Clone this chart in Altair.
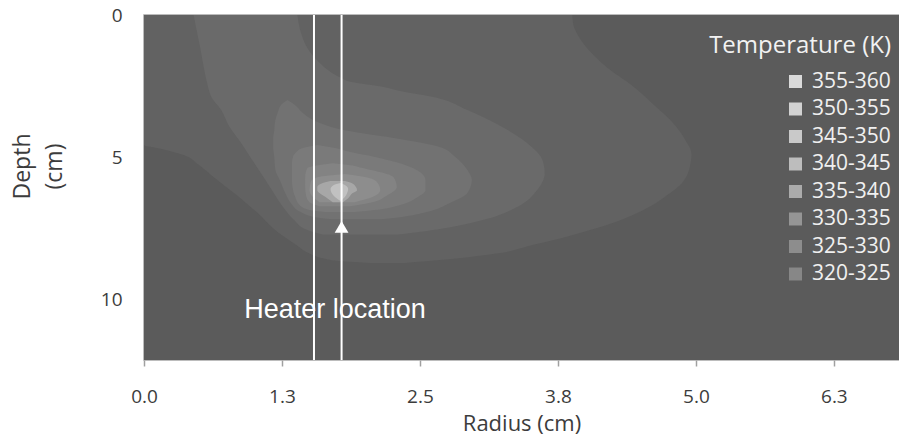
import altair as alt
import pandas as pd

# ---------------- data ----------------
levels = ["320-325", "325-330", "330-335", "335-340", "340-345", "345-350", "350-355", "355-360"]
plot_colors = ["#626262", "#6a6a6a", "#727272", "#7a7a7a", "#838383", "#8d8d8d", "#a7a7a7", "#c1c1c1"]
legend_colors = ["#878787", "#8d8d8d", "#959595", "#ababab", "#bdbdbd", "#c9c9c9", "#d2d2d2", "#dadada"]
background_color = "#5b5b5b"

# each band: (depth cm, left radius cm, right radius cm) of the region with T >= lower bound
band_320_325 = [(0.00, 0.00, 3.88), (0.35, 0.00, 3.89), (0.70, 0.00, 3.93), (1.10, 0.00, 4.00),
                (1.51, 0.00, 4.10), (1.95, 0.00, 4.23), (2.36, 0.00, 4.38), (2.80, 0.00, 4.52),
                (3.27, 0.00, 4.65), (3.70, 0.00, 4.77), (4.12, 0.00, 4.86), (4.57, 0.00, 4.93),
                (4.70, 0.15, 4.95), (4.92, 0.36, 4.96), (5.25, 0.49, 4.95), (5.63, 0.61, 4.92),
                (6.00, 0.73, 4.85), (6.33, 0.84, 4.74), (6.70, 0.95, 4.60), (7.03, 1.05, 4.43),
                (7.35, 1.13, 4.22), (7.63, 1.21, 3.98), (7.88, 1.30, 3.75), (8.09, 1.38, 3.52),
                (8.37, 1.49, 3.22), (8.55, 1.62, 2.85), (8.66, 1.80, 2.55), (8.72, 2.05, 2.36)]
band_325_330 = [(0.00, 0.45, 1.39), (0.60, 0.48, 1.42), (1.16, 0.51, 1.48), (1.60, 0.53, 1.57),
                (2.00, 0.55, 1.69), (2.20, 0.56, 1.78), (2.36, 0.57, 1.88), (2.53, 0.58, 2.17),
                (2.67, 0.59, 2.32), (2.88, 0.61, 2.62), (3.34, 0.70, 2.93),
                (3.90, 0.77, 3.23), (4.50, 0.88, 3.47), (5.10, 0.98, 3.61), (5.56, 1.06, 3.63),
                (6.16, 1.16, 3.56), (6.75, 1.26, 3.38), (7.21, 1.36, 3.07), (7.56, 1.48, 2.62),
                (7.72, 1.62, 2.30)]
band_330_335 = [(2.99, 1.30, 1.30), (3.17, 1.24, 1.37), (3.45, 1.21, 1.44), (3.69, 1.19, 1.53),
                (4.05, 1.18, 1.82), (4.36, 1.17, 2.32), (4.64, 1.17, 2.68), (4.99, 1.18, 2.82),
                (5.45, 1.19, 2.93), (5.80, 1.23, 2.97), (6.26, 1.28, 2.93), (6.61, 1.33, 2.77),
                (6.93, 1.42, 2.56), (7.11, 1.55, 2.32), (7.18, 1.70, 2.15)]
band_335_340 = [(4.57, 1.57, 1.57), (4.68, 1.44, 1.73), (4.82, 1.38, 1.87), (4.99, 1.35, 2.09),
                (5.21, 1.34, 2.32), (5.45, 1.34, 2.47), (5.80, 1.34, 2.55), (6.16, 1.35, 2.55),
                (6.40, 1.37, 2.48), (6.68, 1.41, 2.32), (6.86, 1.50, 2.09), (6.93, 1.64, 1.91)]
band_340_345 = [(5.21, 1.71, 1.71), (5.28, 1.58, 1.87), (5.38, 1.48, 1.98), (5.70, 1.46, 2.26),
                (6.05, 1.46, 2.29), (6.37, 1.47, 2.19), (6.58, 1.50, 2.07), (6.72, 1.59, 1.87)]
band_345_350 = [(5.59, 1.82, 1.82), (5.70, 1.58, 2.00), (5.87, 1.51, 2.11), (6.16, 1.50, 2.14),
                (6.40, 1.53, 2.07), (6.58, 1.59, 1.91)]
band_350_355 = [(5.84, 1.69, 1.82), (5.91, 1.62, 1.88), (6.05, 1.57, 1.92), (6.16, 1.57, 1.93),
                (6.26, 1.59, 1.89), (6.44, 1.66, 1.85), (6.58, 1.71, 1.80)]
band_355_360 = [(5.91, 1.78, 1.78), (5.98, 1.72, 1.82), (6.12, 1.69, 1.85), (6.26, 1.70, 1.84),
                (6.40, 1.73, 1.82), (6.54, 1.78, 1.78)]

bands = [band_320_325, band_325_330, band_330_335, band_335_340,
         band_340_345, band_345_350, band_350_355, band_355_360]

radius_range = [0, 6.84]
depth_range = [0, 12.13]
x_ticks = [0, 1.25, 2.5, 3.75, 5.0, 6.25]
y_ticks = [0, 5, 10]
heater_lines_r = [1.54, 1.79]
heater_arrow_r = [1.79]
heater_arrow_depth = [7.45]
heater_label = ["Heater location"]
heater_label_r = [1.73]
heater_label_depth = [10.66]

# ---------------- build tables ----------------
rows = []
for lev, band in zip(levels, bands):
    for d, l, r in band:
        rows.append({"level": lev, "depth": d, "left": l, "right": r})
df_bands = pd.DataFrame(rows)

X_SCALE = alt.Scale(domain=radius_range, nice=False, zero=False)
Y_SCALE = alt.Scale(domain=depth_range, nice=False, zero=False, reverse=True)
AX_COLOR = "#3c3c3c"
X_AXIS = alt.Axis(title="Radius (cm)", values=x_ticks, format=".1f", grid=False,
                  labelFont="Open Sans", labelFontSize=19, labelColor=AX_COLOR,
                  labelFlush=False, labelOverlap=False, labelPadding=21,
                  ticks=True, tickSize=6, tickColor="#a0a0a0", tickWidth=1.5,
                  domain=False,
                  titleFont="Open Sans", titleFontSize=22, titleFontWeight="normal",
                  titleColor=AX_COLOR, titleBaseline="top", titleY=53)
Y_AXIS = alt.Axis(title=["Depth", "(cm)"], values=y_ticks, grid=False,
                  labelFont="Open Sans", labelFontSize=19, labelColor=AX_COLOR,
                  labelFlush=False, labelOverlap=False, labelPadding=22,
                  ticks=False, tickSize=0, domain=False,
                  titleFont="Open Sans", titleFontSize=23, titleFontWeight="normal",
                  titleColor=AX_COLOR, titleAngle=-90, titleBaseline="top",
                  titleAlign="center", titleX=-133, titleY=151, titleLineHeight=32)

bg = alt.Chart(pd.DataFrame({"r0": [radius_range[0]], "r1": [radius_range[1]],
                             "d0": [depth_range[0]], "d1": [depth_range[1]]})).mark_rect(
    color=background_color, opacity=1
).encode(x=alt.X("r0:Q", scale=X_SCALE, axis=X_AXIS), x2="r1:Q",
         y=alt.Y("d0:Q", scale=Y_SCALE, axis=Y_AXIS), y2="d1:Q")

layers = [bg]
for lev, col in zip(levels, plot_colors):
    layers.append(
        alt.Chart(df_bands)
        .transform_filter(alt.datum.level == lev)
        .mark_area(orient="horizontal", interpolate="monotone", color=col, opacity=1)
        .encode(
            x=alt.X("left:Q", scale=X_SCALE, axis=X_AXIS),
            x2="right:Q",
            y=alt.Y("depth:Q", scale=Y_SCALE, axis=Y_AXIS),
        )
    )

lines = alt.Chart(pd.DataFrame({"r": heater_lines_r})).mark_rule(
    color="white", strokeWidth=2
).encode(x=alt.X("r:Q", scale=X_SCALE, axis=X_AXIS))

arrow = alt.Chart(pd.DataFrame({"r": heater_arrow_r, "d": heater_arrow_depth})).mark_point(
    shape="triangle-up", filled=True, color="white", size=190, opacity=1
).encode(x=alt.X("r:Q", scale=X_SCALE, axis=X_AXIS),
         y=alt.Y("d:Q", scale=Y_SCALE, axis=Y_AXIS))

label = alt.Chart(pd.DataFrame({"t": heater_label, "r": heater_label_r, "d": heater_label_depth})).mark_text(
    font="Liberation Sans", fontSize=27, color="white", align="center", baseline="alphabetic"
).encode(x=alt.X("r:Q", scale=X_SCALE, axis=X_AXIS),
         y=alt.Y("d:Q", scale=Y_SCALE, axis=Y_AXIS),
         text="t:N")

legend_layer = alt.Chart(pd.DataFrame({"range": levels})).mark_square(opacity=0).encode(
    color=alt.Color(
        "range:N",
        scale=alt.Scale(domain=levels[::-1], range=legend_colors[::-1]),
        legend=alt.Legend(
            title="Temperature (K)", orient="none", legendX=565, legendY=19,
            titleAnchor="end", titleAlign="right", titleFont="Open Sans",
            titleFontSize=24, titleFontWeight="normal", titleColor="#f2f2f2",
            titleLimit=400, titlePadding=13, labelFont="Open Sans", labelFontSize=21,
            labelColor="#f0f0f0", labelOffset=6, symbolType="square",
            symbolSize=169, symbolStrokeWidth=0, symbolOpacity=1,
            rowPadding=5.5, padding=0,
        ),
    )
)

chart = alt.layer(*layers, lines, arrow, label, legend_layer).properties(
    width=755, height=345,
    autosize=alt.AutoSizeParams(type="none"),
    padding={"left": 144, "top": 15, "right": 0, "bottom": 77},
).configure_view(stroke="#a6a6a6", strokeWidth=1.5)

chart.save("out.html", embed_options={"renderer": "svg", "actions": False})
